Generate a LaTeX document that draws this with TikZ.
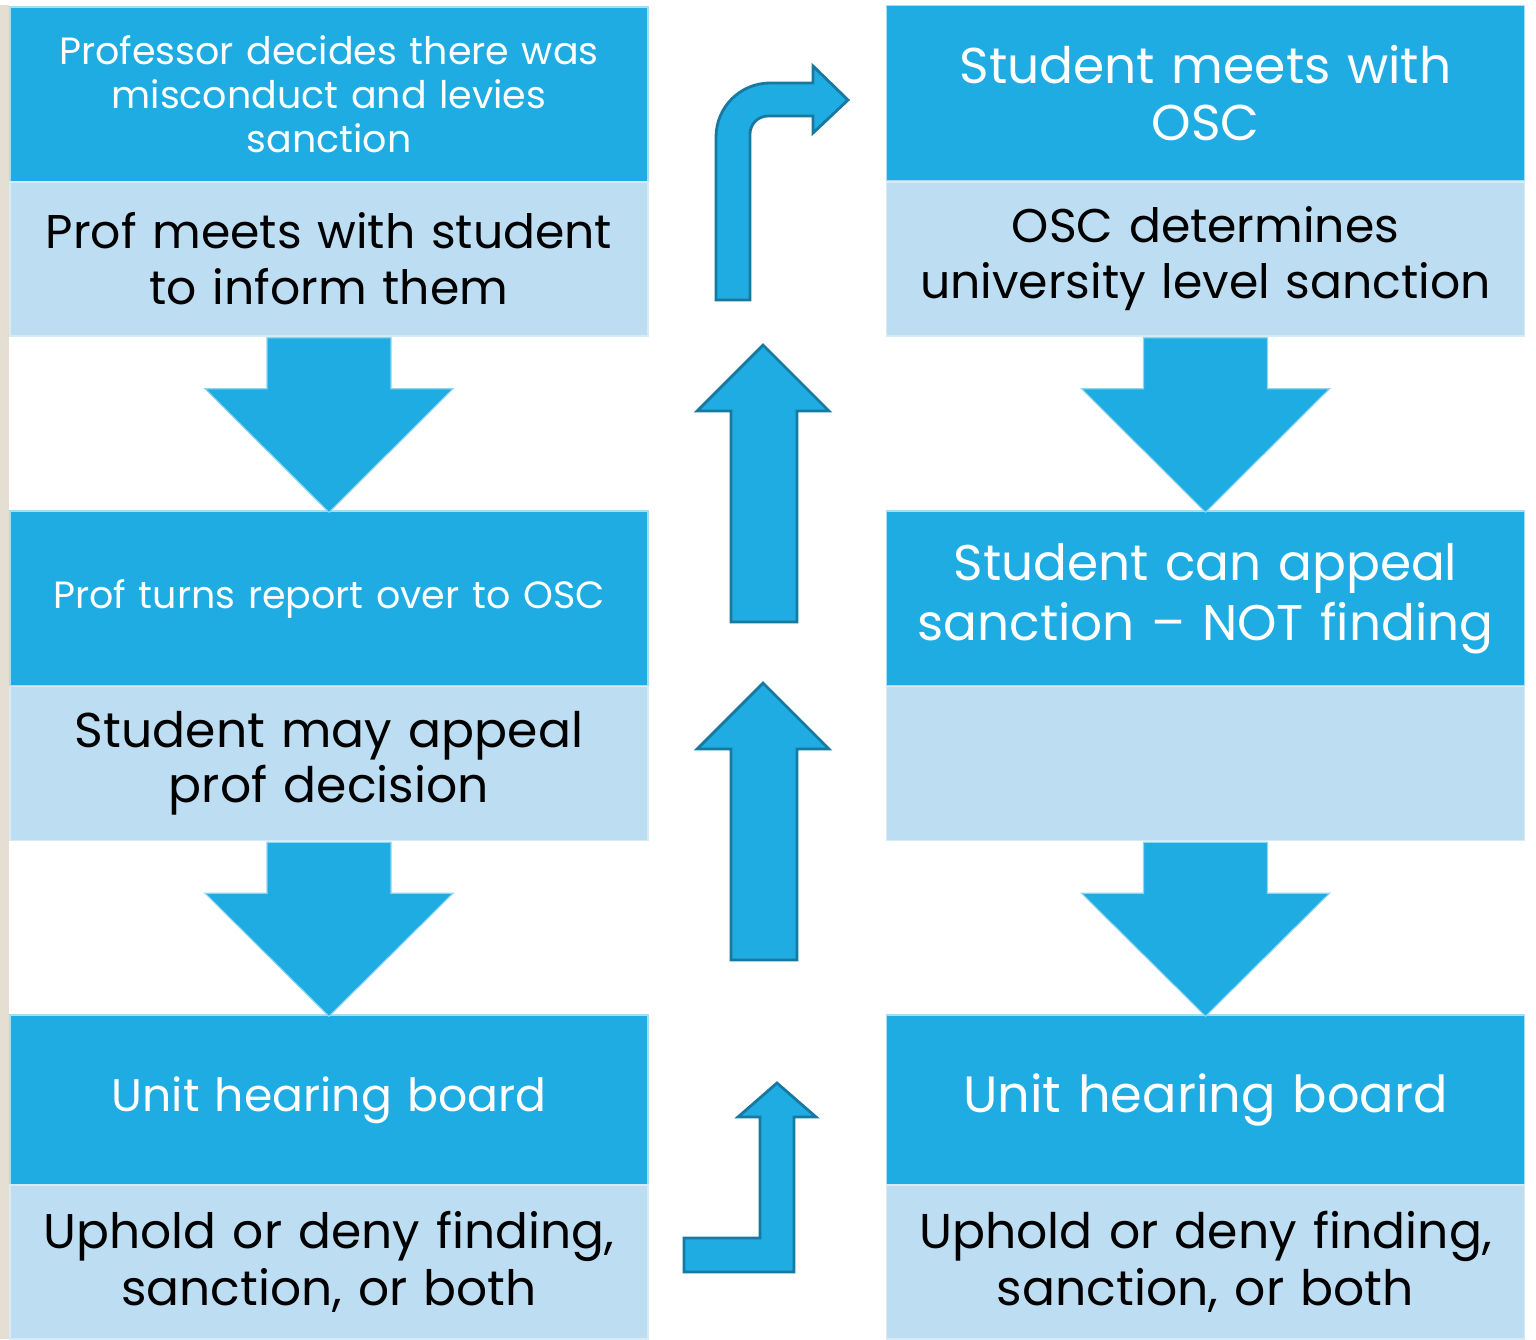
\documentclass[tikz,border=0pt]{standalone}
\usepackage{fontspec}
\setmainfont{Poppins}
\usepackage{tikz}
\usetikzlibrary{calc}

\definecolor{boxdark}{HTML}{1FACE3}
\definecolor{boxlight}{HTML}{BDDEF2}
\definecolor{arrowline}{HTML}{1779A0}
\definecolor{strip}{HTML}{E5DFD3}

\newcommand{\fsz}[2]{\fontsize{#1}{#2}\selectfont}

\begin{document}
\begin{tikzpicture}
      [
        x=0.01cm, y=-0.01cm,
        darkbox/.style={fill=boxdark, draw=white!60!boxdark, line width=0.4pt,
          minimum width=6.38cm, minimum height=1.75cm, inner sep=0pt,
          text width=6.2cm, align=center, text=white},
        lightbox/.style={darkbox, fill=boxlight, draw=white!40!boxlight,
          minimum height=1.54cm, text=black},
        downarrow/.style={fill=boxdark, draw=white!50!boxdark, line width=0.3pt},
        uparrow/.style={fill=boxdark, draw=arrowline, line width=0.8pt, line join=miter}
      ]
      \useasboundingbox (0,0) rectangle (1536,1339);
      \fill[strip] (0,5) rectangle (9,1339);
      % left column
      \node [darkbox, font={\fsz{10.8}{12.5}}] (prof) at (329,94.5)
        {Professor decides there was\\misconduct and levies\\sanction};
      \node [lightbox, font={\fsz{13.45}{15.9}}] (profmeet) at (329,259)
        {Prof meets with student\\to inform them};
      \node [darkbox, font={\fsz{10.8}{12.5}}] (report) at (329,598.5)
        {Prof turns report over to OSC};
      \node [lightbox, font={\fsz{13.9}{15.6}}] (appeal) at (329,763.5)
        {Student may appeal\\prof decision};
      \node [darkbox, minimum height=1.70cm, font={\fsz{13}{15.9}}] (unitL) at (329,1100)
        {Unit hearing board};
      \node [lightbox, font={\fsz{13.85}{16.2}}] (upholdL) at (329,1262)
        {Uphold or deny finding,\\sanction, or both};
      % right column
      \node [darkbox, font={\fsz{14.3}{16.2}}] (osc) at (1205.5,93)
        {Student meets with\\OSC};
      \node [lightbox, font={\fsz{13.45}{15.9}}] (oscdet) at (1205.5,259)
        {OSC determines\\university level sanction};
      \node [darkbox, font={\fsz{14.25}{17}}] (canappeal) at (1205.5,598.5)
        {Student can appeal\\sanction -- NOT finding};
      \node [lightbox] (blank) at (1205.5,763.5) {};
      \node [darkbox, minimum height=1.70cm, font={\fsz{14.5}{16.2}}] (unitR) at (1205.5,1100)
        {Unit hearing board};
      \node [lightbox, font={\fsz{13.9}{16.2}}] (upholdR) at (1205.5,1262)
        {Uphold or deny finding,\\sanction, or both};
      % down arrows
      \foreach \from/\to in {profmeet/report, appeal/unitL, oscdet/canappeal, blank/unitR} {
        \draw [downarrow] ($(\from.south)+(-62,1)$) -- ($(\from.south)+(-62,52)$)
          -- ($(\from.south)+(-124,52)$) -- ($(\to.north)+(0,2)$)
          -- ($(\from.south)+(124,52)$) -- ($(\from.south)+(62,52)$)
          -- ($(\from.south)+(62,1)$) -- cycle;
      }
      % up arrows
      \foreach \y in {0,338} {
        \draw [uparrow] (731,622+\y) -- (731,411+\y) -- (697,411+\y) -- (763,345+\y)
          -- (829,411+\y) -- (797,411+\y) -- (797,622+\y) -- cycle;
      }
      % bent arrows
      \draw [uparrow] (684,1238) -- (760,1238) -- (760,1117) -- (738,1117) -- (777,1083)
        -- (816,1117) -- (794,1117) -- (794,1272) -- (684,1272) -- cycle;
      \draw [uparrow] (716,300) [rounded corners=5.4mm] -- (716,83) [sharp corners] -- (813,83)
        -- (813,66) -- (848,100) -- (813,133) -- (813,116) [rounded corners=1.8mm] -- (750,116)
        [sharp corners] -- (750,300) -- cycle;
\end{tikzpicture}
\end{document}
